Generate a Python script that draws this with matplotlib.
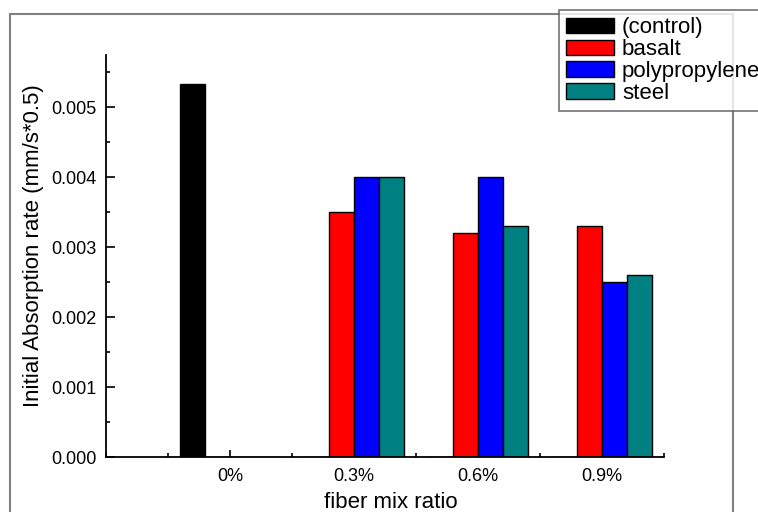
import matplotlib
matplotlib.use('Agg')
import matplotlib.pyplot as plt
from matplotlib.patches import Rectangle
from matplotlib.ticker import MultipleLocator
import numpy as np

plt.rcParams['font.family'] = ['Liberation Sans', 'DejaVu Sans']

# data
ratios = ['0%', '0.3%', '0.6%', '0.9%']
control = [0.00534, 0, 0, 0]
basalt = [0, 0.0035, 0.0032, 0.0033]
polypropylene = [0, 0.0040, 0.0040, 0.0025]
steel = [0, 0.0040, 0.0033, 0.0026]

series = [('(control)', control, '#000000'),
          ('basalt', basalt, '#ff0000'),
          ('polypropylene', polypropylene, '#0000ff'),
          ('steel', steel, '#008080')]

W, H = 758, 512
fig = plt.figure(figsize=(W / 100, H / 100), dpi=100)

# outer grey frame (runs past the bottom edge)
fig.patches.append(Rectangle((10 / W, -0.05), 723 / W, 1 - 14 / H + 0.05,
                             transform=fig.transFigure, fill=False,
                             edgecolor='#808080', linewidth=1.5, zorder=0))

ax = fig.add_axes([106 / W, 1 - 457 / H, 558 / W, 402 / H])
ax.patch.set_alpha(0)

x = np.arange(len(ratios))
w = 0.2
handles = []
for i, (name, vals, col) in enumerate(series):
    b = ax.bar(x + (i - 1.5) * w, vals, width=w, color=col,
               edgecolor='black', linewidth=1.0, label=name, zorder=2)
    handles.append(b)

ax.set_xlim(-1, 3.5)
ax.set_ylim(0, 0.00575)
ax.set_xticks(x)
ax.set_xticklabels(ratios)
ax.xaxis.set_minor_locator(MultipleLocator(0.5))
ax.yaxis.set_major_locator(MultipleLocator(0.001))
ax.yaxis.set_minor_locator(MultipleLocator(0.0005))
ax.yaxis.set_major_formatter(matplotlib.ticker.FormatStrFormatter('%.3f'))

for s in ['top', 'right']:
    ax.spines[s].set_visible(False)
for s in ['left', 'bottom']:
    ax.spines[s].set_linewidth(1.3)
    ax.spines[s].set_zorder(3)

ax.tick_params(axis='both', which='major', direction='in', length=6.5,
               width=1.2, labelsize=13, pad=7)
ax.tick_params(axis='both', which='minor', direction='in', length=3.2, width=1.2)
ax.tick_params(axis='x', which='major', length=5, pad=8)

fig.text(33.5 / W, 1 - 246 / H, 'Initial Absorption rate (mm/s*0.5)',
         rotation=90, ha='center', va='center', fontsize=16)
fig.text(391 / W, 1 - 503 / H, 'fiber mix ratio',
         ha='center', va='center', fontsize=16)

leg = fig.legend(handles=handles, loc='upper left',
                 bbox_to_anchor=(559 / W, 1 - 10 / H),
                 bbox_transform=fig.transFigure,
                 fontsize=16, frameon=True, fancybox=False,
                 handlelength=2.15, handleheight=0.72, handletextpad=0.35,
                 labelspacing=0.04, borderpad=0.33, borderaxespad=0)
leg.get_frame().set_edgecolor('#505050')
leg.get_frame().set_linewidth(1.2)
leg.set_zorder(5)

fig.savefig('out.png', dpi=100)
